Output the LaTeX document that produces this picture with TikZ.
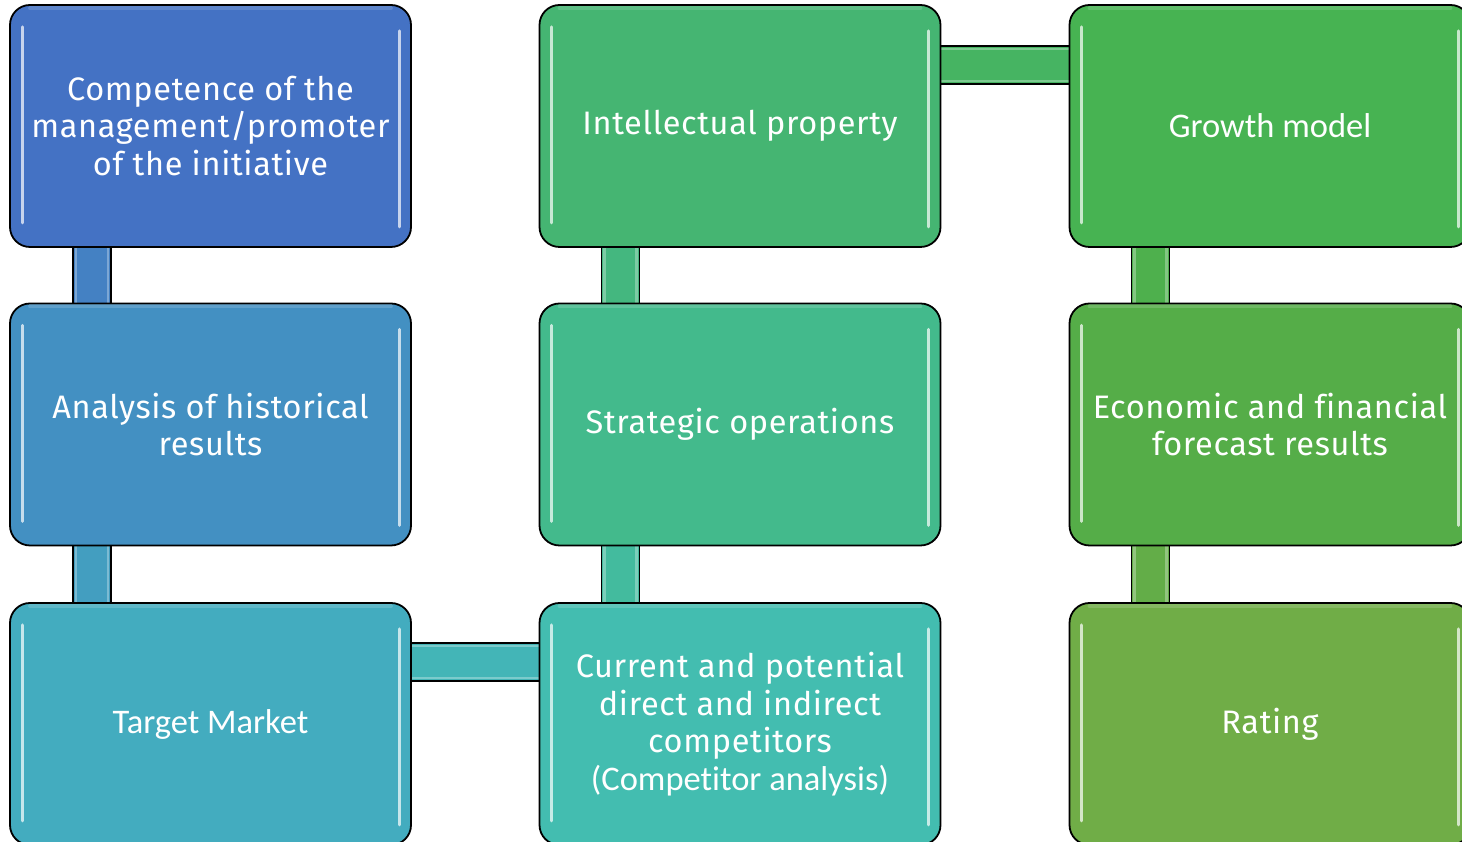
\documentclass[tikz,border=0pt]{standalone}
\usepackage{fontspec}
\setmainfont{Fira Sans}[LetterSpace=2, Ligatures=NoCommon]
\newfontfamily\carl{Carlito}[Ligatures=NoCommon]
\usetikzlibrary{backgrounds}
\definecolor{cA1}{HTML}{4472C4}
\definecolor{cA2}{HTML}{4390C2}
\definecolor{cA3}{HTML}{43ACBF}
\definecolor{cB1}{HTML}{45B572}
\definecolor{cB2}{HTML}{43BA8C}
\definecolor{cB3}{HTML}{43BDB0}
\definecolor{cC1}{HTML}{47B352}
\definecolor{cC2}{HTML}{55AD48}
\definecolor{cC3}{HTML}{70AD47}
\tikzset{
  x=1pt, y=1pt,
  box/.style={draw=black, line width=1.8pt, rounded corners=20pt, fill=#1,
    minimum width=401pt, minimum height=242pt, inner sep=0pt, outer sep=0pt,
    text=white, align=center,
    font=\fontsize{32.5}{37.5}\selectfont},
  cfont/.style={font=\carl\fontsize{34.5}{37.5}\selectfont},
  bar/.style={draw=black, line width=1.8pt, fill=#1},
  hl/.style={draw=white, line width=3pt, line cap=round, opacity=0.7},
  barhl/.style={draw=white, line width=2.5pt, opacity=0.3}
}
\begin{document}
\begin{tikzpicture}
\useasboundingbox (0,0) rectangle (1462,842);
% boxes
\node[box=cA1] (A1) at (210.5,716) {Competence of the\\management/promoter\\of the initiative};
\node[box=cA2] (A2) at (210.5,417.5) {Analysis of historical\\results};
\node[box=cA3, cfont] (A3) at (210.5,118) {Target Market};
\node[box=cB1] (B1) at (740,716) {Intellectual property};
\node[box=cB2] (B2) at (740,417.5) {Strategic operations};
\node[box=cB3] (B3) at (740,118) {Current and potential\\direct and indirect\\competitors\\{\carl\fontsize{34.5}{37.5}\selectfont (Competitor analysis)}};
\node[box=cC1, cfont] (C1) at (1270,716) {Growth model};
\node[box=cC2] (C2) at (1270,417.5) {Economic and financial\\forecast results};
\node[box=cC3] (C3) at (1270,118) {Rating};
% highlights
\foreach \n in {A1,A2,A3,B1,B2,B3,C1,C2,C3}{
  \draw[hl] ([xshift=12pt,yshift=-22pt]\n.north west) -- ([xshift=12pt,yshift=24pt]\n.south west);
  \draw[hl] ([xshift=-12pt,yshift=-26pt]\n.north east) -- ([xshift=-12pt,yshift=20pt]\n.south east);
  \draw[draw=white, line width=4pt, opacity=0.15, line cap=round] ([xshift=20pt,yshift=-3pt]\n.north west) -- ([xshift=-20pt,yshift=-3pt]\n.north east);
}
% connectors
\begin{pgfonlayer}{background}
\draw[bar=cA1!50!cA2] ([xshift=63pt]A1.south west) rectangle ([xshift=101pt]A2.north west);
\draw[bar=cA2!50!cA3] ([xshift=63pt]A2.south west) rectangle ([xshift=101pt]A3.north west);
\draw[bar=cB1!50!cB2] ([xshift=62pt]B1.south west) rectangle ([xshift=100pt]B2.north west);
\draw[bar=cB2!50!cB3] ([xshift=62pt]B2.south west) rectangle ([xshift=100pt]B3.north west);
\draw[bar=cC1!50!cC2] ([xshift=62pt]C1.south west) rectangle ([xshift=100pt]C2.north west);
\draw[bar=cC2!50!cC3] ([xshift=62pt]C2.south west) rectangle ([xshift=100pt]C3.north west);
\draw[bar=cB1!50!cC1] ([yshift=-41pt]B1.north east) rectangle ([yshift=-79pt]C1.north west);
\draw[bar=cA3!50!cB3] ([yshift=-40pt]A3.north east) rectangle ([yshift=-78pt]B3.north west);
% bar edge highlights
\draw[barhl] ([xshift=66pt]A1.south west) -- ([xshift=66pt]A2.north west);
\draw[barhl] ([xshift=98pt]A1.south west) -- ([xshift=98pt]A2.north west);
\draw[barhl] ([xshift=66pt]A2.south west) -- ([xshift=66pt]A3.north west);
\draw[barhl] ([xshift=98pt]A2.south west) -- ([xshift=98pt]A3.north west);
\draw[barhl] ([xshift=65pt]B1.south west) -- ([xshift=65pt]B2.north west);
\draw[barhl] ([xshift=97pt]B1.south west) -- ([xshift=97pt]B2.north west);
\draw[barhl] ([xshift=65pt]B2.south west) -- ([xshift=65pt]B3.north west);
\draw[barhl] ([xshift=97pt]B2.south west) -- ([xshift=97pt]B3.north west);
\draw[barhl] ([xshift=65pt]C1.south west) -- ([xshift=65pt]C2.north west);
\draw[barhl] ([xshift=97pt]C1.south west) -- ([xshift=97pt]C2.north west);
\draw[barhl] ([xshift=65pt]C2.south west) -- ([xshift=65pt]C3.north west);
\draw[barhl] ([xshift=97pt]C2.south west) -- ([xshift=97pt]C3.north west);
\draw[barhl] ([yshift=-44pt]B1.north east) -- ([yshift=-44pt]C1.north west);
\draw[barhl] ([yshift=-76pt]B1.north east) -- ([yshift=-76pt]C1.north west);
\draw[barhl] ([yshift=-43pt]A3.north east) -- ([yshift=-43pt]B3.north west);
\draw[barhl] ([yshift=-75pt]A3.north east) -- ([yshift=-75pt]B3.north west);
\end{pgfonlayer}
\end{tikzpicture}
\end{document}
